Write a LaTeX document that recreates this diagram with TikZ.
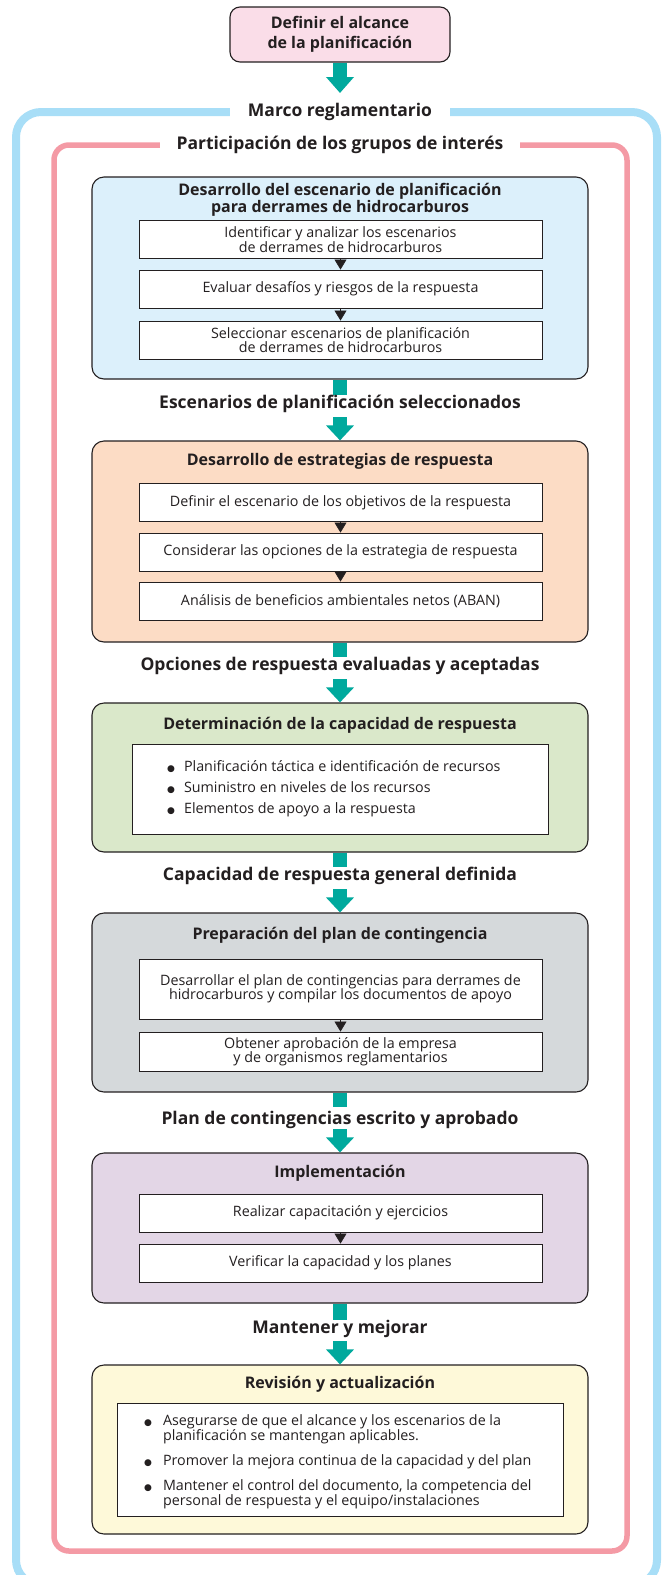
\documentclass[tikz,border=0pt]{standalone}
\usepackage{fontspec}
\setmainfont{Open Sans}
\newfontfamily\dotfont{DejaVu Sans}
\usetikzlibrary{arrows.meta,positioning}

\definecolor{ink}{HTML}{231F20}
\definecolor{flowteal}{HTML}{00A99D}
\definecolor{skyline}{HTML}{A8DEF7}
\definecolor{roseline}{HTML}{F49AA5}
\definecolor{rosebox}{HTML}{FADDE8}
\definecolor{skybox}{HTML}{DCF0FB}
\definecolor{peachbox}{HTML}{FCDCC5}
\definecolor{greenbox}{HTML}{DAE8CA}
\definecolor{greybox}{HTML}{D5D9DB}
\definecolor{lilacbox}{HTML}{E3D6E6}
\definecolor{creambox}{HTML}{FEF9D9}

\newcommand{\bigdot}{{\dotfont\fontsize{9}{9}\selectfont ●}}

\begin{document}
\begin{tikzpicture}[x=1pt,y=-1pt,
  stage/.style = {draw=ink, line width=1.1pt, rounded corners=12pt, minimum width=496pt},
  stagetitle/.style = {font=\fontsize{16}{17.5}\selectfont\bfseries, text=ink, align=center, inner sep=0pt},
  stepbox/.style = {draw=ink, fill=white, line width=0.9pt, minimum width=403pt, minimum height=38pt,
                    font=\fontsize{14.3}{14.5}\selectfont, text=ink, align=center, inner sep=0pt},
  tri/.style = {draw=ink, line width=0.5pt, -{Triangle[length=10pt 0,width=12pt 0]}},
  shaft/.style = {draw=flowteal, line width=14pt},
  flow/.style = {draw=flowteal, line width=14pt, -{Triangle[length=15pt 0,width=27pt 0]}},
  result/.style = {font=\fontsize{17.5}{20}\selectfont\bfseries, text=ink, inner sep=0pt},
  framelabel/.style = {fill=white, font=\fontsize{17.5}{20}\selectfont\bfseries, text=ink,
                       inner xsep=0pt, minimum height=14pt}]
\useasboundingbox (0,0) rectangle (662,1575);

% outer frames
\draw[skyline, line width=8pt, rounded corners=25pt] (16,112) rectangle (657,1585);
\draw[roseline, line width=5.5pt, rounded corners=15pt] (54,145) rectangle (627,1551);
\node[framelabel, minimum width=220pt] (marco) at (340,112) {Marco reglamentario};
\node[framelabel, minimum width=360pt] (partic) at (340,145) {Participación de los grupos de interés};

% scope
\node[stage, fill=rosebox, minimum width=220pt, minimum height=55pt, rounded corners=10pt,
      font=\fontsize{16}{20}\selectfont\bfseries, text=ink, align=center, inner sep=0pt]
      (alcance) at (340,34.5) {Definir el alcance\\de la planificación};
\coordinate (marcotop) at (340,93);
\draw[flow, -{Triangle[length=16pt 0,width=27pt 0]}] (alcance) -- (marcotop);

% 1 scenarios
\node[stage, fill=skybox, minimum height=202pt] (escen) at (340,278) {};
\node[stagetitle] (escentit) at (340,200) {Desarrollo del escenario de planificación\\para derrames de hidrocarburos};
\node[stepbox] (escen1) at (340.5,239.5) {Identificar y analizar los escenarios\\de derrames de hidrocarburos};
\node[stepbox] (escen2) at (340.5,289) {Evaluar desafíos y riesgos de la respuesta};
\node[stepbox] (escen3) at (340.5,340) {Seleccionar escenarios de planificación\\de derrames de hidrocarburos};
\draw[tri] (escen1) -- (escen2);
\draw[tri] (escen2) -- (escen3);

% 2 strategies
\node[stage, fill=peachbox, minimum height=201pt] (estrat) at (340,541.5) {};
\node[stagetitle] (estrattit) at (340,461) {Desarrollo de estrategias de respuesta};
\node[stepbox] (estrat1) at (340.5,502.5) {Definir el escenario de los objetivos de la respuesta};
\node[stepbox] (estrat2) at (340.5,552) {Considerar las opciones de la estrategia de respuesta};
\node[stepbox] (estrat3) at (340.5,601) {Análisis de beneficios ambientales netos (ABAN)};
\draw[tri] (estrat1) -- (estrat2);
\draw[tri] (estrat2) -- (estrat3);

% 3 capability
\node[stage, fill=greenbox, minimum height=149pt] (capac) at (340,777.5) {};
\node[stagetitle] (capactit) at (340,725) {Determinación de la capacidad de respuesta};
\node[stepbox, minimum width=416pt, minimum height=90pt] (capacbox) at (340,789) {};
\node[anchor=west, font=\fontsize{14.3}{21}\selectfont, text=ink, inner sep=0pt] (capaclist) at (167,788)
  {\begin{tabular}{@{}l@{\hspace{9pt}}l@{}}
   \bigdot & Planificación táctica e identificación de recursos\\
   \bigdot & Suministro en niveles de los recursos\\
   \bigdot & Elementos de apoyo a la respuesta
   \end{tabular}};

% 4 contingency plan
\node[stage, fill=greybox, minimum height=179pt] (plan) at (340,1002.5) {};
\node[stagetitle] (plantit) at (340,935) {Preparación del plan de contingencia};
\node[stepbox, minimum height=60pt] (plan1) at (340.5,989) {Desarrollar el plan de contingencias para derrames de\\hidrocarburos y compilar los documentos de apoyo};
\node[stepbox, minimum height=39pt] (plan2) at (340.5,1051.5) {Obtener aprobación de la empresa\\y de organismos reglamentarios};
\draw[tri] (plan1) -- (plan2);

% 5 implementation
\node[stage, fill=lilacbox, minimum height=150pt] (impl) at (340,1228) {};
\node[stagetitle] (impltit) at (340,1173) {Implementación};
\node[stepbox] (impl1) at (340.5,1213) {Realizar capacitación y ejercicios};
\node[stepbox] (impl2) at (340.5,1263) {Verificar la capacidad y los planes};
\draw[tri] (impl1) -- (impl2);

% 6 review
\node[stage, fill=creambox, minimum height=169pt] (revis) at (340,1449.5) {};
\node[stagetitle] (revistit) at (340,1384) {Revisión y actualización};
\node[stepbox, minimum width=446pt, minimum height=113pt] (revisbox) at (340,1459.5) {};
\node[anchor=west, font=\fontsize{14.3}{14}\selectfont, text=ink, inner sep=0pt] (revislist) at (144,1462)
  {\begin{tabular}{@{}l@{\hspace{11pt}}l@{}}
   \bigdot & Asegurarse de que el alcance y los escenarios de la\\
     & planificación se mantengan aplicables.\\[10pt]
   \bigdot & Promover la mejora continua de la capacidad y del plan\\[10pt]
   \bigdot & Mantener el control del documento, la competencia del\\
     & personal de respuesta y el equipo/instalaciones
   \end{tabular}};

% flow between stages
\coordinate (selecc-a) at (340,395);
\coordinate (selecc-b) at (340,417);
\draw[shaft] (escen) -- (selecc-a);
\draw[flow] (selecc-b) -- (estrat);
\node[result] (selecc) at (340,404) {Escenarios de planificación seleccionados};

\coordinate (opcion-a) at (340,657);
\coordinate (opcion-b) at (340,679);
\draw[shaft] (estrat) -- (opcion-a);
\draw[flow] (opcion-b) -- (capac);
\node[result] (opcion) at (340,666) {Opciones de respuesta evaluadas y aceptadas};

\coordinate (capgen-a) at (340,867);
\coordinate (capgen-b) at (340,889);
\draw[shaft] (capac) -- (capgen-a);
\draw[flow] (capgen-b) -- (plan);
\node[result] (capgen) at (340,876) {Capacidad de respuesta general definida};

\coordinate (escrito-a) at (340,1107);
\coordinate (escrito-b) at (340,1129);
\draw[shaft] (plan) -- (escrito-a);
\draw[flow] (escrito-b) -- (impl);
\node[result] (escrito) at (340,1120) {Plan de contingencias escrito y aprobado};

\coordinate (mejora-a) at (340,1320);
\coordinate (mejora-b) at (340,1341);
\draw[shaft] (impl) -- (mejora-a);
\draw[flow] (mejora-b) -- (revis);
\node[result] (mejora) at (340,1329) {Mantener y mejorar};
\end{tikzpicture}
\end{document}
